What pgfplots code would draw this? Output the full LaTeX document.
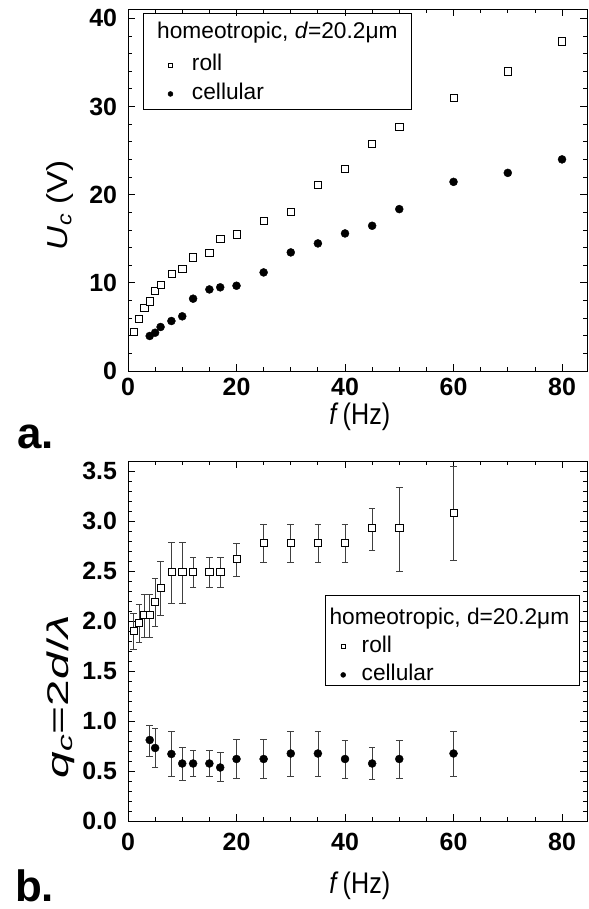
\documentclass[border=0pt]{standalone}
\usepackage{pgfplots}
\pgfplotsset{compat=1.18}
\usepackage{fontspec}
\setmainfont{Liberation Sans}
\begin{document}
\begin{tikzpicture}
\useasboundingbox (0,0) rectangle (589bp,909bp);
\pgfplotsset{
 myaxis/.style={
  scale only axis, width=459bp,
  xmin=0, xmax=84.6,
  xtick={0,20,...,80}, minor x tick num=3,
  axis line style={line width=0.9bp},
  major tick length=7bp, minor tick length=4bp,
  every tick/.style={black, line width=0.8bp},
  tick label style={font=\fontsize{25}{25}\selectfont\bfseries, inner sep=0pt, outer sep=0pt},
  /pgf/number format/assume math mode=true,
  legend cell align=left,
  legend style={draw=none, fill=none, inner sep=0pt, outer sep=0pt,
    font=\fontsize{22.8}{22.8}\selectfont,
    nodes={inner sep=0pt, outer sep=0pt, text height=17bp, text depth=5bp}},
 },
 rollstyle/.style={black, only marks, mark=square*, mark size=3.6bp,
   mark options={fill=white, draw=black, line width=0.6bp},
   legend image code/.code={\draw[##1, mark size=2bp, mark repeat=2, mark phase=2] plot coordinates {(0bp,0bp) (5bp,0bp) (10bp,0bp)};}},
 cellstyle/.style={black, only marks, mark=*, mark size=4bp,
   mark options={fill=black, draw=black},
   legend image code/.code={\draw[##1, mark size=2.5bp, mark repeat=2, mark phase=2] plot coordinates {(0bp,0bp) (5bp,0bp) (10bp,0bp)};}},
 errstyle/.style={error bars/.cd, y dir=both, y explicit,
   error bar style={black!75, line width=0.7bp},
   error mark options={black!75, line width=0.7bp, mark size=3.3bp, rotate=90}},
}
% ---------- panel a ----------
\begin{axis}[myaxis, at={(128bp,538bp)}, anchor=south west,
  height=361.5bp, ymin=0, ymax=41,
  ytick={0,10,...,40}, minor y tick num=4,
  xticklabel style={yshift=-7bp}, yticklabel style={xshift=-11bp},
  xlabel={\fontsize{26}{26}\selectfont\scalebox{0.97}[1.15]{\textit{f}\,(Hz)}},
  ylabel={\fontsize{29}{29}\selectfont\scalebox{1.15}[1]{\textit{U}\textsubscript{\textit{c}} (V)}},
  xlabel style={at={(axis description cs:0.505,-0.127)}, anchor=center},
  ylabel style={at={(axis description cs:-0.148,0.459)}, anchor=center},
  legend style={at={(axis description cs:0.0871,0.877)}, anchor=north west, row sep=7bp, column sep=19bp},
]
\draw[line width=0.7bp] (axis description cs:0.0327,0.990) rectangle (axis description cs:0.618,0.7248);
\node[anchor=base west, inner sep=0pt, font=\fontsize{22.8}{22.8}\selectfont] at (axis description cs:0.0632,0.9198) {homeotropic, \textit{d}=20.2μm};
\addplot[rollstyle] coordinates {
(1,4.4) (2,5.9) (3,7.2) (4,7.9) (5,9.07) (6,9.75) (8,11.0) (10,11.6) (12,12.9)
(15,13.45) (17,15.0) (20,15.5) (25,17.0) (30,18.1) (35,21.15) (40,22.97)
(45,25.8) (50,27.7) (60,30.97) (70,34.0) (80,37.4)};
\addlegendentry{roll}
\addplot[cellstyle] coordinates {
(4,3.97) (5,4.34) (6,4.99) (8,5.67) (10,6.2) (12,8.2) (15,9.25) (17,9.49)
(20,9.67) (25,11.18) (30,13.45) (35,14.47) (40,15.6) (45,16.47) (50,18.36)
(60,21.45) (70,22.47) (80,24.0)};
\addlegendentry{cellular}
\end{axis}
% ---------- panel b ----------
\begin{axis}[myaxis, at={(128bp,88bp)}, anchor=south west,
  height=360bp, ymin=0, ymax=3.6,
  ytick={0,0.5,...,3.5}, minor y tick num=4,
  yticklabel style={xshift=-11bp, /pgf/number format/.cd, fixed, fixed zerofill, precision=1},
  xticklabel style={yshift=-12bp},
  xlabel={\fontsize{26}{26}\selectfont\scalebox{0.97}[1.15]{\textit{f}\,(Hz)}},
  ylabel={\fontsize{30}{30}\selectfont\scalebox{1.6}[1]{\textit{q}\textsubscript{\textit{c}}=2\textit{d}/\textit{λ}}},
  xlabel style={at={(axis description cs:0.505,-0.181)}, anchor=center},
  ylabel style={at={(axis description cs:-0.146,0.345)}, anchor=center},
  legend style={at={(axis description cs:0.4634,0.515)}, anchor=north west, row sep=6.3bp, column sep=16bp},
]
\draw[line width=0.7bp, fill=white] (axis description cs:0.4292,0.6278) rectangle (axis description cs:0.9833,0.3778);
\node[anchor=base west, inner sep=0pt, font=\fontsize{22.8}{22.8}\selectfont] at (axis description cs:0.4386,0.545) {homeotropic, d=20.2μm};
\addplot[rollstyle, errstyle] coordinates {
(1,1.90) += (0,0.18) -= (0,0.18)
(2,1.98) += (0,0.19) -= (0,0.19)
(3,2.06) += (0,0.21) -= (0,0.22)
(4,2.06) += (0,0.21) -= (0,0.22)
(5,2.19) += (0,0.24) -= (0,0.24)
(6,2.33) += (0,0.27) -= (0,0.27)
(8,2.49) += (0,0.30) -= (0,0.31)
(10,2.49) += (0,0.30) -= (0,0.31)
(12,2.49) += (0,0.15) -= (0,0.15)
(15,2.49) += (0,0.15) -= (0,0.15)
(17,2.49) += (0,0.15) -= (0,0.15)
(20,2.62) += (0,0.16) -= (0,0.17)
(25,2.78) += (0,0.19) -= (0,0.19)
(30,2.78) += (0,0.19) -= (0,0.19)
(35,2.78) += (0,0.19) -= (0,0.19)
(40,2.78) += (0,0.19) -= (0,0.19)
(45,2.93) += (0,0.20) -= (0,0.22)
(50,2.93) += (0,0.41) -= (0,0.43)
(60,3.08) += (0,0.47) -= (0,0.47)};
\addlegendentry{roll}
\addplot[cellstyle, errstyle] coordinates {
(4,0.81) += (0,0.15) -= (0,0.16)
(5,0.73) += (0,0.20) -= (0,0.195)
(8,0.67) += (0,0.23) -= (0,0.22)
(10,0.575) += (0,0.165) -= (0,0.165)
(12,0.575) += (0,0.135) -= (0,0.125)
(15,0.575) += (0,0.135) -= (0,0.125)
(17,0.535) += (0,0.15) -= (0,0.135)
(20,0.62) += (0,0.20) -= (0,0.19)
(25,0.62) += (0,0.20) -= (0,0.19)
(30,0.675) += (0,0.225) -= (0,0.225)
(35,0.675) += (0,0.225) -= (0,0.225)
(40,0.62) += (0,0.19) -= (0,0.19)
(45,0.575) += (0,0.165) -= (0,0.16)
(50,0.62) += (0,0.19) -= (0,0.19)
(60,0.675) += (0,0.225) -= (0,0.225)};
\addlegendentry{cellular}
\end{axis}
\node[anchor=base west, inner sep=0pt, font=\fontsize{44}{44}\selectfont\bfseries] at (17bp,460bp) {a.};
\node[anchor=base west, inner sep=0pt, font=\fontsize{44}{44}\selectfont\bfseries] at (15bp,8bp) {b.};
\end{tikzpicture}
\end{document}
